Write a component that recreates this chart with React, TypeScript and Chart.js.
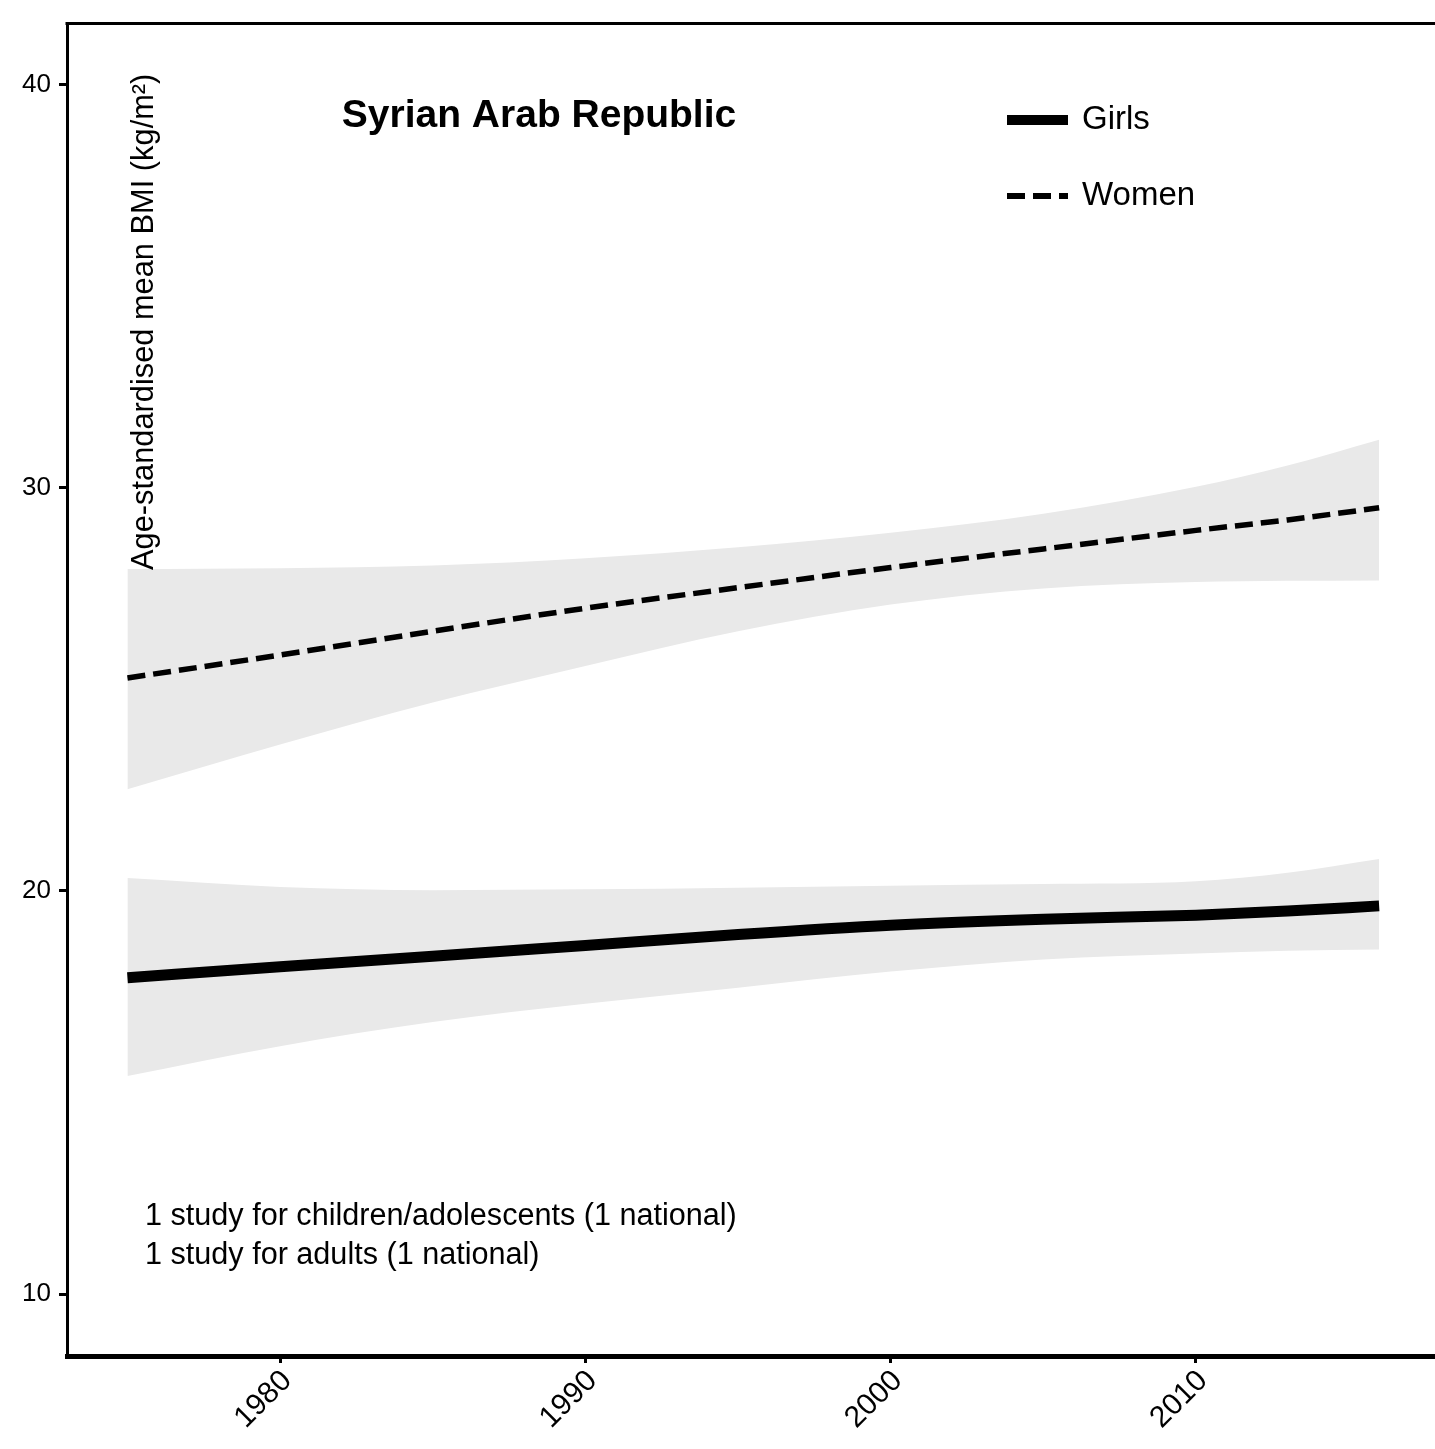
import React, { useEffect, useRef } from "react";
import { Chart, registerables } from "chart.js";

Chart.register(...registerables);

const years = [1975, 1980, 1985, 1990, 1995, 2000, 2005, 2010, 2013, 2016];
const girlsMean = [17.85, 18.12, 18.38, 18.65, 18.92, 19.15, 19.3, 19.4, 19.5, 19.63];
const girlsUpper = [20.32, 20.1, 20.02, 20.04, 20.08, 20.13, 20.17, 20.24, 20.45, 20.79];
const girlsLower = [15.41, 16.15, 16.75, 17.2, 17.6, 18.0, 18.3, 18.45, 18.52, 18.55];
const womenMean = [25.28, 25.85, 26.44, 27.01, 27.52, 28.02, 28.48, 28.94, 29.2, 29.5];
const womenUpper = [27.98, 28.0, 28.07, 28.25, 28.52, 28.88, 29.35, 30.02, 30.55, 31.19];
const womenLower = [22.52, 23.63, 24.67, 25.58, 26.44, 27.1, 27.5, 27.66, 27.69, 27.7];

const xTicks = [1980, 1990, 2000, 2010];
const yTicks = [10, 20, 30, 40];

const titleText = "Syrian Arab Republic";
const legendLabels = ["Girls", "Women"];
const yTitle = "Age-standardised mean BMI (kg/m²)";
const notes = [
  "1 study for children/adolescents (1 national)",
  "1 study for adults (1 national)",
];

const FONT = "'Liberation Sans', Arial, Helvetica, sans-serif";
const BAND = "rgb(233,233,233)";

const pts = (vals: number[]) => years.map((x, i) => ({ x, y: vals[i] }));

const overlay = {
  id: "overlay",
  afterDraw(chart: any) {
    const ctx = chart.ctx;
    const a = chart.chartArea;
    const xs = chart.scales.x;
    ctx.save();
    // top border
    ctx.strokeStyle = "#000";
    ctx.lineWidth = 3;
    ctx.beginPath();
    ctx.moveTo(a.left - 1.5, a.top);
    ctx.lineTo(a.right, a.top);
    ctx.stroke();

    ctx.fillStyle = "#000";
    // x tick labels (rotated 45°)
    ctx.font = `30px ${FONT}`;
    ctx.textAlign = "right";
    ctx.textBaseline = "middle";
    xTicks.forEach((v) => {
      const px = xs.getPixelForValue(v);
      ctx.save();
      ctx.translate(px + 7, a.bottom + 20);
      ctx.rotate(-Math.PI / 4);
      ctx.fillText(String(v), 0, 0);
      ctx.restore();
    });

    // title
    ctx.font = `bold 39px ${FONT}`;
    ctx.textAlign = "center";
    ctx.textBaseline = "alphabetic";
    ctx.fillText(titleText, 539, 127);

    // legend
    ctx.lineWidth = 10;
    ctx.setLineDash([]);
    ctx.beginPath();
    ctx.moveTo(1007, 120);
    ctx.lineTo(1068, 120);
    ctx.stroke();
    ctx.lineWidth = 6;
    ctx.setLineDash([18, 8]);
    ctx.beginPath();
    ctx.moveTo(1007, 196);
    ctx.lineTo(1068, 196);
    ctx.stroke();
    ctx.setLineDash([]);
    ctx.font = `33px ${FONT}`;
    ctx.textAlign = "left";
    ctx.textBaseline = "middle";
    ctx.fillText(legendLabels[0], 1082, 120);
    ctx.fillText(legendLabels[1], 1082, 196);

    // notes
    ctx.font = `30.6px ${FONT}`;
    ctx.fillText(notes[0], 145, 1217);
    ctx.fillText(notes[1], 145, 1256);

    // y title
    ctx.translate(153, 570);
    ctx.rotate(-Math.PI / 2);
    ctx.textAlign = "left";
    ctx.textBaseline = "alphabetic";
    ctx.font = `30.8px ${FONT}`;
    ctx.fillText(yTitle, 0, 0);
    ctx.restore();
  },
};

export default function App() {
  const ref = useRef<HTMLCanvasElement | null>(null);
  useEffect(() => {
    if (!ref.current) return;
    const lineBase = {
      pointRadius: 0,
      cubicInterpolationMode: "monotone" as const,
      fill: false,
    };
    const chart = new Chart(ref.current, {
      type: "line",
      data: {
        datasets: [
          { ...lineBase, label: legendLabels[0], data: pts(girlsMean), borderColor: "#000", borderWidth: 11, borderCapStyle: "butt" },
          { ...lineBase, label: legendLabels[1], data: pts(womenMean), borderColor: "#000", borderWidth: 5.5, borderDash: [18, 8] },
          { ...lineBase, label: "women upper", data: pts(womenUpper), borderWidth: 0, borderColor: BAND, backgroundColor: BAND, fill: "+1" },
          { ...lineBase, label: "women lower", data: pts(womenLower), borderWidth: 0, borderColor: BAND },
          { ...lineBase, label: "girls upper", data: pts(girlsUpper), borderWidth: 0, borderColor: BAND, backgroundColor: BAND, fill: "+1" },
          { ...lineBase, label: "girls lower", data: pts(girlsLower), borderWidth: 0, borderColor: BAND },
        ],
      },
      options: {
        animation: false,
        responsive: false,
        devicePixelRatio: 1,
        layout: { padding: { top: 18, right: 0, left: 0, bottom: 0 } },
        plugins: { legend: { display: false }, tooltip: { enabled: false }, title: { display: false } },
        scales: {
          x: {
            type: "linear",
            min: 1973.02,
            max: 2017.83,
            afterBuildTicks: (axis: any) => {
              axis.ticks = xTicks.map((v) => ({ value: v }));
            },
            afterFit: (axis: any) => {
              axis.height = 93;
            },
            grid: { drawOnChartArea: false, drawTicks: true, tickLength: 7, tickWidth: 3, tickColor: "#000" },
            border: { display: true, color: "#000", width: 5 },
            ticks: {
              display: false,
              autoSkip: false,
            },
          },
          y: {
            type: "linear",
            min: 8.469,
            max: 41.506,
            afterBuildTicks: (axis: any) => {
              axis.ticks = yTicks.map((v) => ({ value: v }));
            },
            afterFit: (axis: any) => {
              axis.width = 67;
            },
            grid: { drawOnChartArea: false, drawTicks: true, tickLength: 8, tickWidth: 3, tickColor: "#000" },
            border: { display: true, color: "#000", width: 3 },
            ticks: {
              autoSkip: false,
              padding: 8,
              color: "#000",
              font: { family: FONT, size: 26 },
              callback: (v: any) => String(v),
            },
          },
        },
      },
      plugins: [overlay],
    });
    return () => chart.destroy();
  }, []);
  return (
    <div style={{ position: "absolute", left: 0, top: 0, width: 1435, height: 1449, background: "#fff" }}>
      <canvas ref={ref} width={1435} height={1449} style={{ width: 1435, height: 1449, display: "block" }} />
    </div>
  );
}
